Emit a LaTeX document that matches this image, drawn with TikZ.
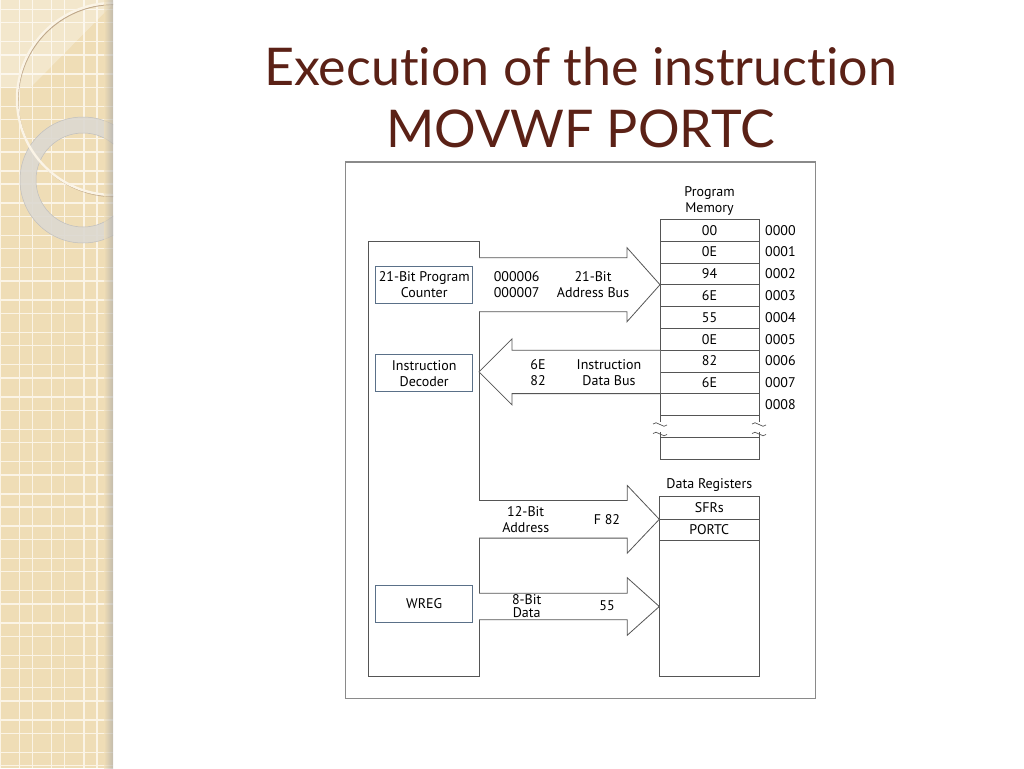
\documentclass[tikz,border=0pt]{standalone}
\usepackage{fontspec}
\setmainfont{PT Sans}
\newfontfamily\titlefont[Ligatures={NoCommon,NoContextual}]{Lato}
\usepackage{xcolor}
\usepackage{tikz}
\usetikzlibrary{shapes,positioning,calc}
\definecolor{titlebrown}{HTML}{5B2116}
\definecolor{bandbeige}{HTML}{EFDDB6}
\definecolor{gridwhite}{HTML}{FBF4E6}
\definecolor{linegray}{HTML}{555555}
\definecolor{framegray}{HTML}{8A8A8A}
\definecolor{regblue}{HTML}{5A7088}
\definecolor{ringgray}{HTML}{DDD9D1}
\tikzset{
	unit/.style = {
		draw=linegray, rectangle, inner sep=0pt, outer sep=0pt, line width=0.8pt
	}
}
\tikzset{
	reg/.style = {
		draw=regblue, rectangle, inner sep=0pt, line width=0.9pt, align=center,
		minimum width=97pt, minimum height=37pt, font=\fontsize{14}{16}\selectfont
	}
}
\tikzset{
	cell/.style = {
		unit, minimum width=99pt, minimum height=21.8pt, font=\fontsize{14}{16}\selectfont
	}
}
\tikzset{
	addr/.style = {
		inner sep=0pt, font=\fontsize{14}{16}\selectfont
	}
}
\tikzset{
	bus/.style = {
		draw=linegray, line width=0.8pt, fill=white, line join=miter
	}
}
\tikzset{
	buslabel/.style = {
		inner sep=0pt, align=center, font=\fontsize{14}{16}\selectfont
	}
}
% block arrow: tail, tip, half shaft, half head, head length (negative points left)
\newcommand{\busarrow}[5]{%
	\draw[bus] let \p1=(#1), \p2=(#2) in
		(\x1,\y2+#3pt) -- (\x2-#5pt,\y2+#3pt) -- (\x2-#5pt,\y2+#4pt) -- (\x2,\y2)
		-- (\x2-#5pt,\y2-#4pt) -- (\x2-#5pt,\y2-#3pt) -- (\x1,\y2-#3pt);}

\begin{document}
\begin{tikzpicture}[x=1pt, y=-1pt]
	\useasboundingbox (0,0) rectangle (1024,768);
	\fill[white] (0,0) rectangle (1024,768);

	% decorated band on the left
	\begin{scope}
		\clip (0,0) rectangle (113,768);
		\fill[bandbeige] (0,0) rectangle (113,768);
		\foreach \k in {0,...,3}
			\draw[gridwhite, line width=1.4pt] (32.3*\k,0) -- (32.3*\k,768) (19.3+32.3*\k,0) -- (19.3+32.3*\k,768);
		\foreach \k in {0,...,23}
			\draw[gridwhite, line width=1.4pt] (0,9.3+32.3*\k) -- (113,9.3+32.3*\k) (0,22.6+32.3*\k) -- (113,22.6+32.3*\k);
		\fill[white, opacity=0.3] (0,0) -- (113,0) -- (113,4) -- (30,88) -- (0,88) -- cycle;
		\draw[ringgray, opacity=0.9, line width=16pt] (83,180) circle (55);
		\draw[black!25, line width=0.5pt] (83,180) circle (63) (83,180) circle (47);
		\draw[brown!50!gray, line width=1.2pt, opacity=0.6] (114,100.5) circle (96);
		\draw[gridwhite, line width=2.4pt] (113,99) circle (96);
		\shade[left color=bandbeige, right color=black!35, opacity=0.6] (104,0) rectangle (113,768);
	\end{scope}

	% title
	\node[anchor=base, font=\titlefont\fontsize{52}{62}\selectfont, text=titlebrown] (title1) at (580.5,85) {Execution of the instruction};
	\node[anchor=base, font=\titlefont\fontsize{52}{62}\selectfont, text=titlebrown] (title2) at (580.5,147) {MOVWF PORTC};

	% frame of the figure
	\draw[framegray, line width=1.5pt] (345.7,162) rectangle (815.7,698.3);

	% CPU side
	\node[unit, minimum width=111pt, minimum height=435pt] (cpu) at (423.5,458.5) {};
	\node[reg] (pc) at (424.2,284.7) {21-Bit Program\\Counter};
	\node[reg] (decoder) at (424.2,373.3) {Instruction\\Decoder};
	\node[reg] (wreg) at (424.2,604) {WREG};

	% program memory
	\node[cell] (m0) at (709.5,230.2) {00};
	\node[addr, right=6pt of m0] (a0) {0000};
	\foreach \v [count=\i from 1, evaluate=\i as \j using int(\i-1)] in {0E,94,6E,55,0E,82,6E,{}} {
		\node[cell, below=0pt of m\j] (m\i) {\v};
		\node[addr, right=6pt of m\i] (a\i) {000\i};
	}
	\node[buslabel, above=4pt of m0] (pmlbl) {Program\\Memory};
	\node[minimum width=99pt, minimum height=21.6pt, inner sep=0pt, outer sep=0pt, below=0pt of m8] (mbrk) {};
	\node[cell, below=0pt of mbrk] (mend) {};
	\foreach \s in {west,east} {
		\draw[linegray, line width=0.8pt] (mbrk.north \s) -- ++(0,-6pt);
		\draw[linegray, line width=0.8pt] (mbrk.south \s) -- ++(0,5pt);
		\draw[linegray, line width=0.7pt] ($(mbrk.north \s)+(-7pt,-8.5pt)$) .. controls +(3pt,5pt) and +(-3pt,-5pt) .. ++(14pt,-1pt);
		\draw[linegray, line width=0.7pt] ($(mbrk.north \s)+(-7pt,-18pt)$) .. controls +(3pt,5pt) and +(-3pt,-5pt) .. ++(14pt,-1pt);
	}

	% data registers
	\node[unit, minimum width=100pt, minimum height=179.3pt, anchor=north west] (dreg) at (659.3,496.7) {};
	\node[cell, minimum width=100pt, minimum height=22.6pt, anchor=north] (sfr) at (dreg.north) {SFRs};
	\node[cell, minimum width=100pt, minimum height=20.7pt, below=0pt of sfr] (portc) {PORTC};
	\node[addr, above=5pt of dreg] (dreglbl) {Data Registers};

	% buses
	\busarrow{cpu.east |- m3.north west}{m3.north west}{27}{37}{33}
	\busarrow{m6.south west}{cpu.east |- m6.south west}{21.7}{33}{-33}
	\busarrow{cpu.east |- sfr.south west}{sfr.south west}{18.8}{33.8}{32}
	\coordinate (dbus) at (659.3,606.5);
	\busarrow{cpu.east |- dbus}{dbus}{13.3}{28.7}{32}

	\node[buslabel] (pcval) at (516.7,285) {000006\\000007};
	\node[buslabel] (abuslbl) at (593,285) {21-Bit\\Address Bus};
	\node[buslabel] (irval) at (538,373) {6E\\82};
	\node[buslabel] (ibuslbl) at (609,373) {Instruction\\Data Bus};
	\node[buslabel] (addrlbl) at (525.7,520) {12-Bit\\Address};
	\node[buslabel] (addrval) at (607,520) {F 82};
	\node[buslabel, font=\fontsize{14}{13}\selectfont] (datalbl) at (526.7,606) {8-Bit\\Data};
	\node[buslabel] (dataval) at (607,606) {55};
\end{tikzpicture}
\end{document}
